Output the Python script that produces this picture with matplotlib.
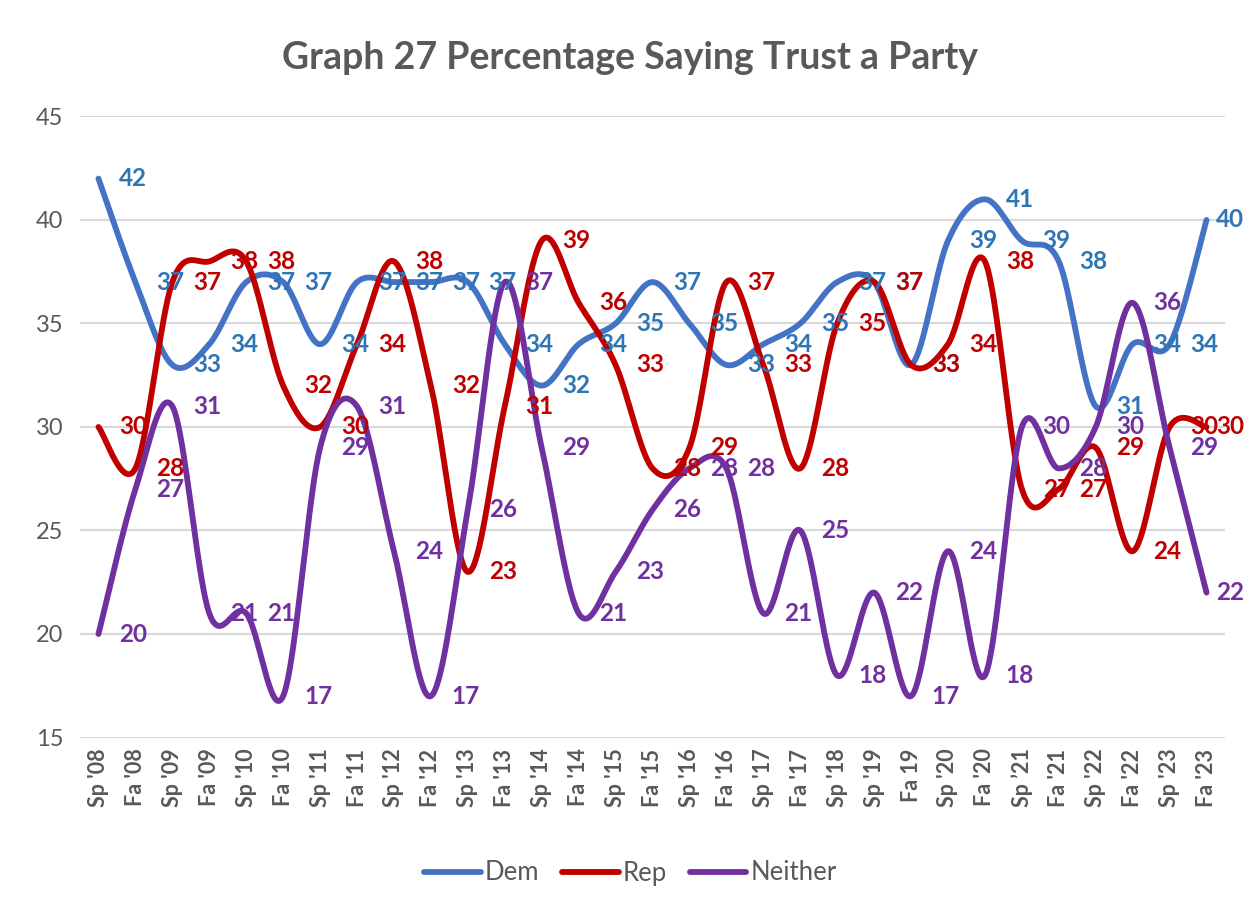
import numpy as np
import matplotlib
matplotlib.use("Agg")
import matplotlib.pyplot as plt

plt.rcParams['font.family'] = ['Lato', 'DejaVu Sans']

categories = ["Sp '08", "Fa '08", "Sp '09", "Fa '09", "Sp '10", "Fa '10", "Sp '11", "Fa '11",
              "Sp '12", "Fa '12", "Sp '13", "Fa '13", "Sp '14", "Fa '14", "Sp '15", "Fa '15",
              "Sp '16", "Fa '16", "Sp '17", "Fa '17", "Sp '18", "Sp '19", "Fa 19", "Sp '20",
              "Fa '20", "Sp \u201921", "Fa '21", "Sp '22", "Fa '22", "Sp '23", "Fa '23"]

dem = [42, 37, 33, 34, 37, 37, 34, 37, 37, 37, 37, 34, 32, 34, 35, 37,
       35, 33, 34, 35, 37, 37, 33, 39, 41, 39, 38, 31, 34, 34, 40]
rep = [30, 28, 37, 38, 38, 32, 30, 34, 38, 32, 23, 31, 39, 36, 33, 28,
       29, 37, 33, 28, 35, 37, 33, 34, 38, 27, 27, 29, 24, 30, 30]
neither = [20, 27, 31, 21, 21, 17, 29, 31, 24, 17, 26, 37, 29, 21, 23, 26,
           28, 28, 21, 25, 18, 22, 17, 24, 18, 30, 28, 30, 36, 29, 22]

series = [("Dem", dem, "#4472C4", "#2E75B6"),
          ("Rep", rep, "#C00000", "#C00000"),
          ("Neither", neither, "#7030A0", "#7030A0")]


def smooth(xs, ys, n=40):
    xs = np.asarray(xs, float)
    ys = np.asarray(ys, float)
    P = np.column_stack([xs, ys])
    ext = np.vstack([P[0], P, P[-1]])
    out = []
    t = np.linspace(0, 1, n)[:, None]
    for i in range(len(P) - 1):
        p0 = ext[i + 1]
        p3 = ext[i + 2]
        c1 = p0 + (ext[i + 2] - ext[i]) / 6.0
        c2 = p3 - (ext[i + 3] - ext[i + 1]) / 6.0
        seg = ((1 - t) ** 3) * p0 + 3 * ((1 - t) ** 2) * t * c1 + 3 * (1 - t) * t ** 2 * c2 + t ** 3 * p3
        out.append(seg if i == 0 else seg[1:])
    out = np.vstack(out)
    return out[:, 0], out[:, 1]


fig = plt.figure(figsize=(12.53, 9.09), dpi=100)
ax = fig.add_axes([80 / 1253, 1 - 737.5 / 909, 1145 / 1253, (737.5 - 116.5) / 909])

x = np.arange(len(categories))
for name, vals, lc, tc in series:
    sx, sy = smooth(x, vals)
    ax.plot(sx, sy, color=lc, lw=4.2, solid_capstyle='round', label=name, zorder=3)

for name, vals, lc, tc in series:
    for i, v in enumerate(vals):
        off = 7 if i == len(vals) - 1 else 15
        ax.annotate(str(v), (x[i], v), xytext=(off, 0), textcoords='offset points',
                    ha='left', va='center', fontsize=17.5, fontweight='bold', color=tc,
                    zorder=5, annotation_clip=False)

ax.set_xlim(-0.5, len(categories) - 0.5)
ax.set_ylim(15, 45)
ax.set_yticks([15, 20, 25, 30, 35, 40, 45])
ax.set_xticks(x)
ax.set_xticklabels(categories, rotation=90, fontsize=15.5, fontweight='bold', color='#595959')
ax.tick_params(axis='y', labelsize=17, colors='#595959', length=0, pad=12)
ax.tick_params(axis='x', length=0, pad=8)
ax.grid(axis='y', color='#D9D9D9', lw=1.5, zorder=0)
for s in ax.spines.values():
    s.set_visible(False)
ax.set_axisbelow(True)

fig.text(0.503, 1 - 58 / 909, "Graph 27 Percentage Saying Trust a Party", ha='center', va='center',
         fontsize=27, fontweight='bold', color='#595959')

leg = fig.legend(loc='center', bbox_to_anchor=(0.503, 1 - 873 / 909), ncol=3, frameon=False,
                 fontsize=18.5, handlelength=2.2, columnspacing=0.9, handletextpad=0.15)
for t in leg.get_texts():
    t.set_color('#595959')

fig.savefig("out.png", dpi=100)
